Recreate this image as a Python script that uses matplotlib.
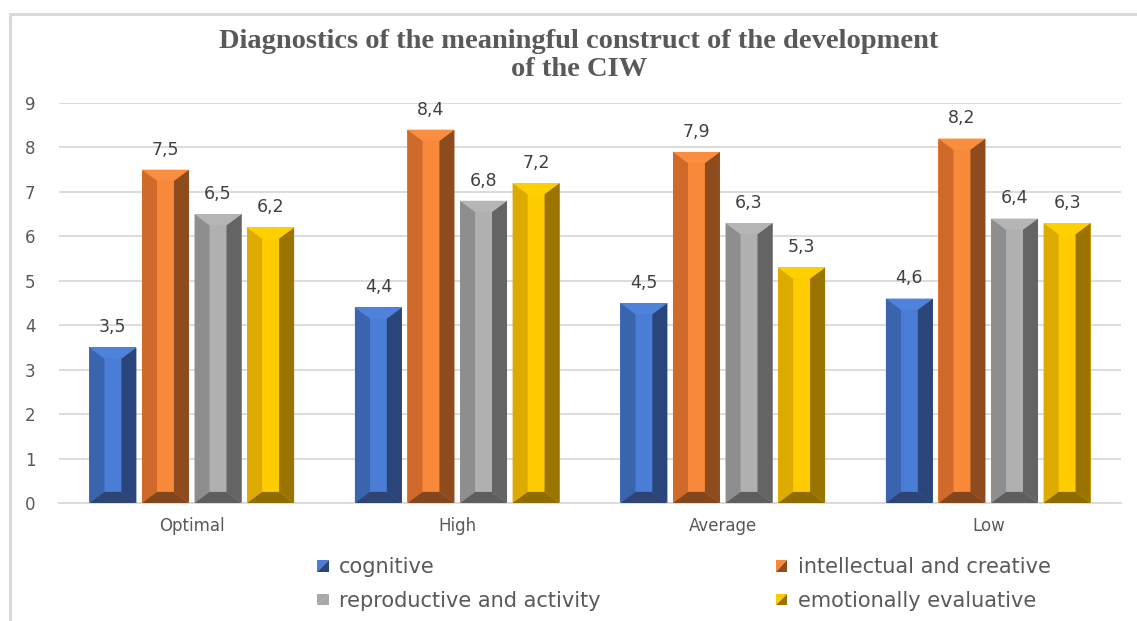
import matplotlib
matplotlib.use('Agg')
import numpy as np
import matplotlib.pyplot as plt
from matplotlib.patches import Polygon, Patch
from matplotlib.legend_handler import HandlerBase
from matplotlib.lines import Line2D

# --- data ---
categories = ['Optimal', 'High', 'Average', 'Low']
series_names = ['cognitive', 'intellectual and creative',
                'reproductive and activity', 'emotionally evaluative']
cognitive = [3.5, 4.4, 4.5, 4.6]
intellectual = [7.5, 8.4, 7.9, 8.2]
reproductive = [6.5, 6.8, 6.3, 6.4]
emotional = [6.2, 7.2, 5.3, 6.3]
values = [cognitive, intellectual, reproductive, emotional]

# front, left bevel, right bevel, top bevel, bottom bevel
shades = [
    ('#4A7DD6', '#3A64AC', '#2A4579', '#4F82DA', '#2D4474'),
    ('#F8893A', '#CF6A2A', '#8E4C1E', '#FA8E40', '#84461C'),
    ('#B0B0B0', '#8E8E8E', '#646464', '#B5B5B5', '#5E5E5E'),
    ('#FFCC00', '#DDAA00', '#9B7400', '#FFD000', '#8F6C00'),
]
legend_shades = [('#4A7DD6', '#2A4579'), ('#F8893A', '#8E4C1E'),
                 ('#A8A8A8', '#A8A8A8'), ('#FFCC00', '#9B7400')]

TXT = '#595959'
GRID = '#D9D9D9'
FONT = 'DejaVu Sans'

fig = plt.figure(figsize=(11.37, 6.21), dpi=100)
ax = fig.add_axes([59 / 1137, 1 - 503 / 621, (1121 - 59) / 1137, 400 / 621])

x = np.arange(len(categories))
width = 0.177
step = 0.198
bev_x = 0.32 * width   # horizontal bevel
bev_y = 0.25           # vertical bevel in data units

for i, (vals, sh) in enumerate(zip(values, shades)):
    front, left, right, top, bottom = sh
    bars = ax.bar(x + (i - 1.5) * step, vals, width, color=front, linewidth=0, zorder=2)
    for rect, v in zip(bars, vals):
        x0 = rect.get_x()
        x1 = x0 + rect.get_width()
        y0, y1 = 0, rect.get_height()
        faces = [
            ([(x0, y0), (x0 + bev_x, y0 + bev_y), (x0 + bev_x, y1 - bev_y), (x0, y1)], left),
            ([(x1, y0), (x1 - bev_x, y0 + bev_y), (x1 - bev_x, y1 - bev_y), (x1, y1)], right),
            ([(x0, y1), (x1, y1), (x1 - bev_x, y1 - bev_y), (x0 + bev_x, y1 - bev_y)], top),
            ([(x0, y0), (x1, y0), (x1 - bev_x, y0 + bev_y), (x0 + bev_x, y0 + bev_y)], bottom),
        ]
        for pts, c in faces:
            ax.add_patch(Polygon(pts, closed=True, facecolor=c, edgecolor='none', zorder=3))
        ax.annotate(f'{v}'.replace('.', ','), (rect.get_x() + rect.get_width() / 2, v),
                    xytext=(0, 8), textcoords='offset points', ha='center', va='bottom',
                    fontsize=12.5, color='#404040', family=FONT)

ax.set_xlim(-0.5, len(categories) - 0.5)
ax.set_ylim(0, 9)
ax.set_yticks(range(10))
ax.set_xticks(x)
ax.set_xticklabels(categories)
ax.tick_params(axis='both', length=0, labelsize=12, labelcolor=TXT)
ax.tick_params(axis='y', pad=17)
ax.tick_params(axis='x', pad=10)
for lab in ax.get_xticklabels() + ax.get_yticklabels():
    lab.set_family(FONT)
ax.grid(axis='y', color=GRID, linewidth=1.3, zorder=0)
ax.set_axisbelow(True)
for s in ['top', 'right', 'left']:
    ax.spines[s].set_visible(False)
ax.spines['bottom'].set_color(GRID)
ax.spines['bottom'].set_linewidth(1.3)

fig.text(579 / 1137, 1 - 42 / 621, 'Diagnostics of the meaningful construct of the development',
         ha='center', va='center', fontsize=20.5, fontweight='bold', color=TXT,
         family='Liberation Serif')
fig.text(579 / 1137, 1 - 69 / 621, 'of the CIW',
         ha='center', va='center', fontsize=20.5, fontweight='bold', color=TXT,
         family='Liberation Serif')


class SplitSquare(HandlerBase):
    def create_artists(self, legend, orig_handle, xdescent, ydescent, width, height,
                       fontsize, trans):
        s = min(width, height)
        x0 = -xdescent
        y0 = -ydescent + (height - s) / 2
        light = orig_handle.get_facecolor()
        dark = orig_handle.get_edgecolor()
        t1 = Polygon([(x0, y0), (x0, y0 + s), (x0 + s, y0 + s)], closed=True,
                     facecolor=light, edgecolor='none', transform=trans)
        t2 = Polygon([(x0, y0), (x0 + s, y0), (x0 + s, y0 + s)], closed=True,
                     facecolor=dark, edgecolor='none', transform=trans)
        return [t1, t2]


handles = [Patch(facecolor=l, edgecolor=d, label=n)
           for n, (l, d) in zip(series_names, legend_shades)]
order = [0, 2, 1, 3]
leg = fig.legend([handles[k] for k in order], [series_names[k] for k in order],
                 handler_map={Patch: SplitSquare()}, ncol=2, frameon=False,
                 loc='center', bbox_to_anchor=(684 / 1137, 1 - 584 / 621),
                 prop={'family': FONT, 'size': 15}, labelcolor=TXT,
                 handlelength=0.55, handleheight=0.55, handletextpad=0.5,
                 columnspacing=8.4, labelspacing=0.65)

# outer frame (top and left edges)
fig.add_artist(Line2D([10 / 1137, 1], [1 - 14 / 621] * 2, color=GRID, linewidth=2.2))
fig.add_artist(Line2D([10 / 1137] * 2, [0, 1 - 14 / 621], color=GRID, linewidth=2.2))

fig.savefig('out.png', dpi=100)
